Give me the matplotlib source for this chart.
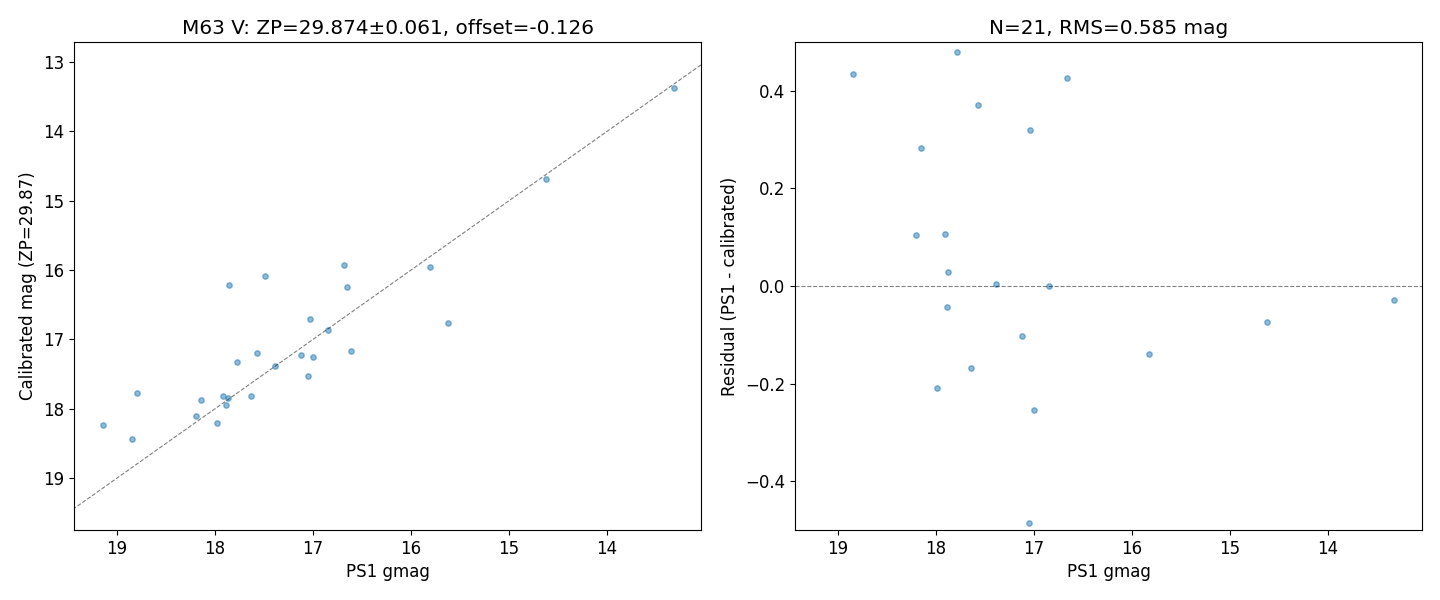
import matplotlib
matplotlib.use("Agg")
import matplotlib.pyplot as plt
import numpy as np

plt.rcParams["font.size"] = 12

# Left panel: PS1 gmag vs calibrated mag
ps1_left = [19.14, 18.85, 18.80, 18.19, 18.14, 17.98, 17.92, 17.87, 17.89, 17.86,
            17.78, 17.63, 17.57, 17.49, 17.39, 17.12, 17.05, 17.03, 17.00, 16.85,
            16.68, 16.65, 16.61, 15.81, 15.62, 14.62, 13.32]
cal_left = [18.23, 18.43, 17.78, 18.10, 17.87, 18.20, 17.81, 17.85, 17.94, 16.21,
            17.32, 17.81, 17.20, 16.09, 17.39, 17.23, 17.53, 16.71, 17.26, 16.86,
            15.93, 16.24, 17.17, 15.96, 16.77, 14.69, 13.37]

# Right panel: residuals
ps1_right = [18.85, 17.79, 17.57, 16.66, 17.04, 18.15, 18.20, 17.91, 17.88, 17.39,
             16.85, 17.89, 17.12, 17.64, 17.99, 17.00, 17.05, 15.83, 14.62, 13.33]
resid = [0.434, 0.479, 0.371, 0.426, 0.319, 0.282, 0.104, 0.106, 0.028, 0.005,
         0.000, -0.044, -0.103, -0.169, -0.208, -0.255, -0.485, -0.139, -0.074, -0.029]

left_title = "M63 V: ZP=29.874\u00b10.061, offset=-0.126"
right_title = "N=21, RMS=0.585 mag"

fig = plt.figure(figsize=(14.4, 6), dpi=100)
ax1 = fig.add_axes([74/1440, 70/600, 627/1440, 488/600])
ax2 = fig.add_axes([795/1440, 70/600, 627/1440, 488/600])

ax1.scatter(ps1_left, cal_left, s=15, alpha=0.5, color="C0")
ax1.axline((14, 14), slope=1, color="k", ls="--", lw=0.8, alpha=0.5)
ax1.set_xlim(19.44, 13.04)
ax1.set_ylim(19.75, 12.71)
ax1.set_xlabel("PS1 gmag")
ax1.set_ylabel("Calibrated mag (ZP=29.87)")
ax1.set_title(left_title)

ax2.scatter(ps1_right, resid, s=15, alpha=0.5, color="C0")
ax2.axhline(0, color="k", ls="--", lw=0.8, alpha=0.5)
ax2.set_xlim(19.44, 13.04)
ax2.set_ylim(-0.5, 0.5)
ax2.set_xlabel("PS1 gmag")
ax2.set_ylabel("Residual (PS1 - calibrated)")
ax2.set_title(right_title)

fig.savefig("out.png", dpi=100)
